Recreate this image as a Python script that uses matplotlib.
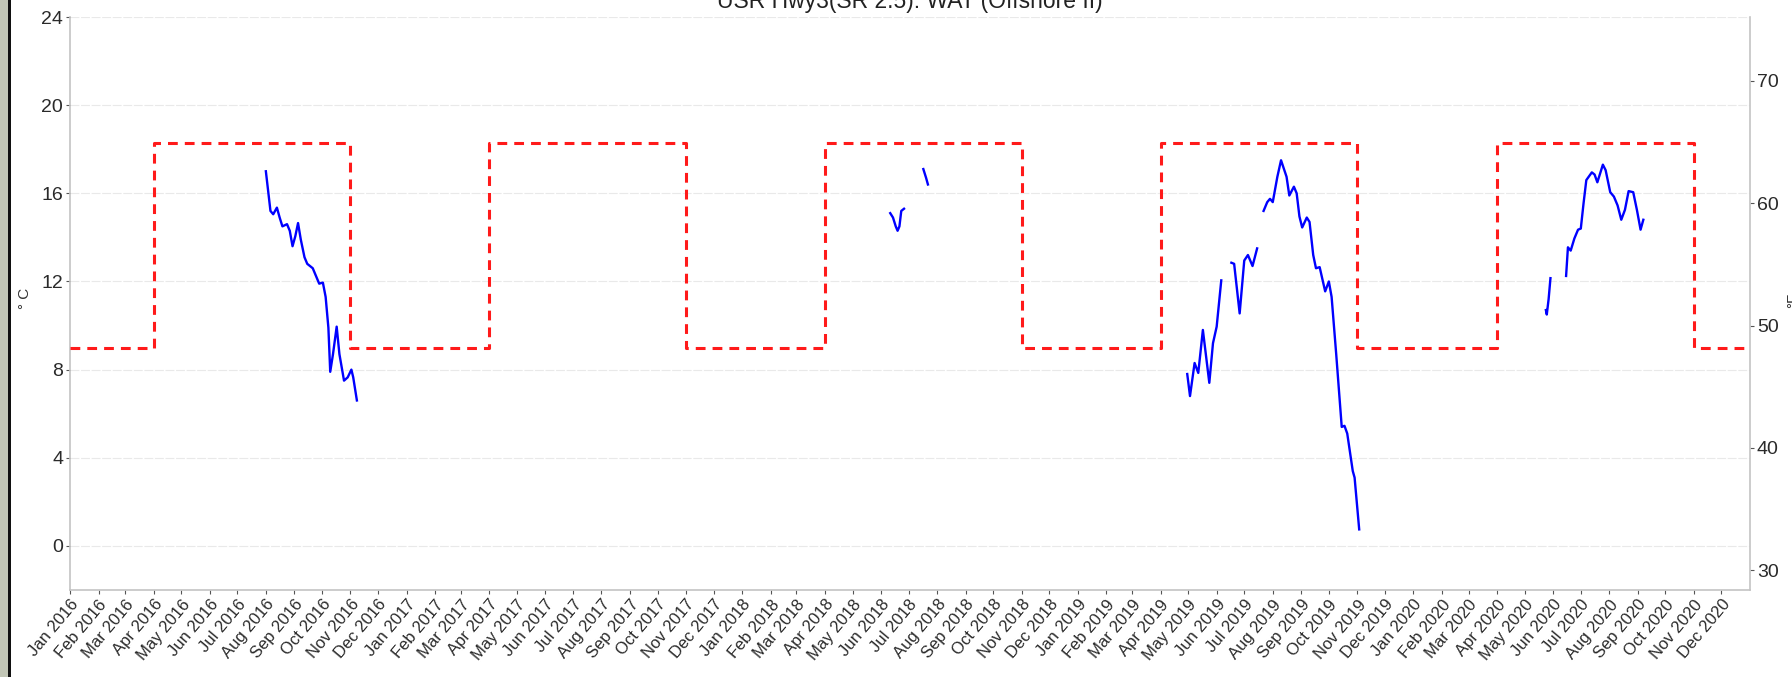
import matplotlib
matplotlib.use("Agg")
import matplotlib.pyplot as plt
import matplotlib.dates as mdates
import pandas as pd
from matplotlib.patches import Rectangle

plt.rcParams['font.family'] = ['Liberation Sans', 'DejaVu Sans']

title = "USR Hwy3(SR 2.5): WAT (Offshore II)"

# temperature criterion (deg C), value holds until next date
crit_dates = ["2016-01-01", "2016-04-01", "2016-11-01", "2017-04-01", "2017-11-01",
              "2018-04-01", "2018-11-01", "2019-04-01", "2019-11-01", "2020-04-01",
              "2020-11-01", "2021-01-01"]
crit_vals = [9.0, 18.3, 9.0, 18.3, 9.0, 18.3, 9.0, 18.3, 9.0, 18.3, 9.0, 9.0]

# measured water temperature, one list per deployment (deg C)
t2016_dates = ["2016-08-01", "2016-08-06", "2016-08-09", "2016-08-13", "2016-08-16",
               "2016-08-19", "2016-08-24", "2016-08-27", "2016-08-30", "2016-09-02",
               "2016-09-05", "2016-09-08", "2016-09-12", "2016-09-15", "2016-09-21",
               "2016-09-24", "2016-09-28", "2016-10-02", "2016-10-05", "2016-10-08",
               "2016-10-10", "2016-10-13", "2016-10-17", "2016-10-20", "2016-10-25",
               "2016-10-29", "2016-11-02", "2016-11-04", "2016-11-08"]
t2016_vals = [17.0, 15.2, 15.05, 15.35, 14.9, 14.5, 14.6, 14.3, 13.6, 14.05,
              14.65, 13.9, 13.1, 12.8, 12.6, 12.3, 11.9, 11.95, 11.3, 9.9,
              7.9, 8.7, 9.95, 8.7, 7.5, 7.65, 8.0, 7.65, 6.6]

t2018a_dates = ["2018-06-11", "2018-06-14", "2018-06-17", "2018-06-19", "2018-06-21",
                "2018-06-23", "2018-06-26"]
t2018a_vals = [15.1, 14.9, 14.5, 14.3, 14.5, 15.2, 15.3]

t2018b_dates = ["2018-07-17", "2018-07-20", "2018-07-22"]
t2018b_vals = [17.1, 16.7, 16.4]

t2019a_dates = ["2019-04-30", "2019-05-03", "2019-05-08", "2019-05-12", "2019-05-17",
                "2019-05-24", "2019-05-28", "2019-06-01", "2019-06-06"]
t2019a_vals = [7.8, 6.8, 8.3, 7.85, 9.8, 7.4, 9.2, 9.95, 12.05]

t2019b_dates = ["2019-06-17", "2019-06-20", "2019-06-26", "2019-07-01", "2019-07-05",
                "2019-07-10", "2019-07-15"]
t2019b_vals = [12.85, 12.8, 10.55, 12.95, 13.2, 12.7, 13.5]

t2019c_dates = ["2019-07-22", "2019-07-26", "2019-07-29", "2019-08-01", "2019-08-06",
                "2019-08-10", "2019-08-16", "2019-08-19", "2019-08-24", "2019-08-27",
                "2019-08-30", "2019-09-02", "2019-09-07", "2019-09-10", "2019-09-14",
                "2019-09-17", "2019-09-21", "2019-09-27", "2019-10-01", "2019-10-04",
                "2019-10-09", "2019-10-15", "2019-10-18", "2019-10-21", "2019-10-27",
                "2019-10-29", "2019-11-03"]
t2019c_vals = [15.2, 15.6, 15.75, 15.6, 16.75, 17.5, 16.75, 15.9, 16.3, 16.0,
               14.95, 14.45, 14.9, 14.7, 13.2, 12.6, 12.65, 11.55, 12.0, 11.3,
               8.7, 5.4, 5.45, 5.1, 3.4, 3.1, 0.75]

t2020a_dates = ["2020-05-24", "2020-05-25", "2020-05-27", "2020-05-29"]
t2020a_vals = [10.7, 10.5, 11.2, 12.15]

t2020b_dates = ["2020-06-15", "2020-06-17", "2020-06-20", "2020-06-24", "2020-06-28",
                "2020-07-01", "2020-07-04", "2020-07-07", "2020-07-13", "2020-07-16",
                "2020-07-19", "2020-07-25", "2020-07-28", "2020-08-02", "2020-08-06",
                "2020-08-10", "2020-08-14", "2020-08-18", "2020-08-22", "2020-08-27",
                "2020-08-31", "2020-09-04", "2020-09-07"]
t2020b_vals = [12.25, 13.55, 13.4, 13.95, 14.35, 14.4, 15.55, 16.6, 16.95, 16.85,
               16.5, 17.3, 17.05, 16.05, 15.85, 15.45, 14.8, 15.25, 16.1, 16.05,
               15.25, 14.35, 14.8]

segments = [(t2016_dates, t2016_vals), (t2018a_dates, t2018a_vals),
            (t2018b_dates, t2018b_vals), (t2019a_dates, t2019a_vals),
            (t2019b_dates, t2019b_vals), (t2019c_dates, t2019c_vals),
            (t2020a_dates, t2020a_vals), (t2020b_dates, t2020b_vals)]

W, H = 1792, 677
fig = plt.figure(figsize=(W / 100, H / 100), dpi=100)
ax = fig.add_axes([70 / W, 1 - 590 / H, 1680 / W, 573 / H])

# criterion
ax.plot(pd.to_datetime(crit_dates), crit_vals, drawstyle='steps-post',
        color='#ff1a1a', linewidth=2.2, dashes=(3.2, 2.3), zorder=3)

for d, v in segments:
    ax.plot(pd.to_datetime(d), v, color='#0000ff', linewidth=1.7, zorder=4)

ax.set_xlim(pd.Timestamp("2016-01-01"), pd.Timestamp("2021-01-01"))
ax.set_ylim(-2, 24)
ax.set_yticks([0, 4, 8, 12, 16, 20, 24])
ax.yaxis.grid(True, color='#e9e9e9', linestyle=(0, (8, 1.5)), linewidth=0.8)
ax.set_axisbelow(True)

months = pd.date_range("2016-01-01", "2020-12-01", freq="MS")
ax.set_xticks(months)
ax.xaxis.set_major_formatter(mdates.DateFormatter('%b %Y'))
for lab in ax.get_xticklabels():
    lab.set_rotation(50)
    lab.set_ha('right')
    lab.set_va('top')
    lab.set_rotation_mode('anchor')

for s in ['top', 'right']:
    ax.spines[s].set_visible(False)
for s in ['left', 'bottom']:
    ax.spines[s].set_color('#c4c4c4')
    ax.spines[s].set_linewidth(1.2)
ax.tick_params(axis='x', colors='#555555', labelcolor='#2a2a2a', labelsize=12,
               length=3, pad=2)
ax.tick_params(axis='y', colors='#555555', labelcolor='#2a2a2a', labelsize=14,
               length=3, pad=2)

# Fahrenheit axis
ax2 = ax.twinx()
ax2.set_ylim(-2 * 9 / 5 + 32, 24 * 9 / 5 + 32)
ax2.set_yticks([30, 40, 50, 60, 70])
for s in ['top', 'left', 'bottom']:
    ax2.spines[s].set_visible(False)
ax2.spines['right'].set_color('#c4c4c4')
ax2.spines['right'].set_linewidth(1.2)
ax2.tick_params(axis='y', colors='#555555', labelcolor='#2a2a2a', labelsize=14,
                length=3, pad=2)

fig.text(25 / W, 1 - 298 / H, "° C", rotation=90, ha='center', va='center',
         fontsize=11, color='#333333')
fig.text(1786 / W, 1 - 300 / H, "°F", rotation=90, ha='left', va='center',
         fontsize=11, color='#333333')
fig.text(910 / W, 1 - 8 / H, title, ha='center', va='baseline', fontsize=16.5,
         color='#222222')

# grey strip with dark border on the left
fig.patches.append(Rectangle((0, 0), 8 / W, 1, transform=fig.transFigure,
                             facecolor='#c2c6b6', edgecolor='none'))
fig.patches.append(Rectangle((8 / W, 0), 3 / W, 1, transform=fig.transFigure,
                             facecolor='#111111', edgecolor='none'))

fig.savefig("out.png", dpi=100)
